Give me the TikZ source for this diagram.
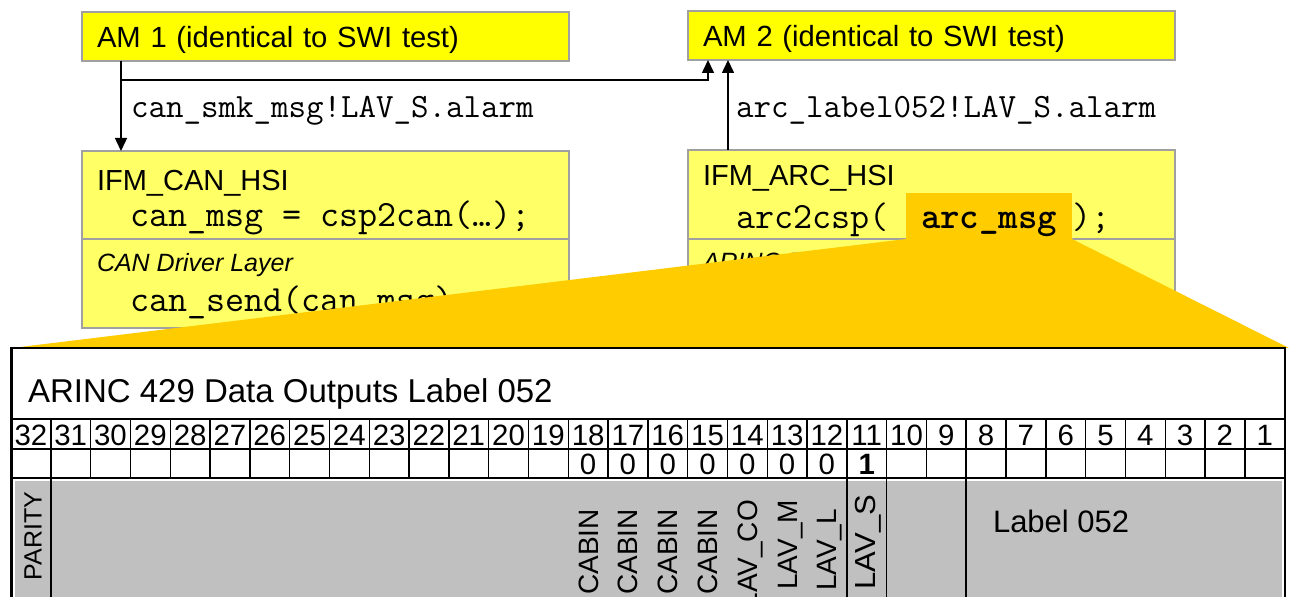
\documentclass[tikz,border=0pt]{standalone}
\usepackage{fontspec}
\setmainfont{Liberation Sans}
\usepackage{graphicx}
\usetikzlibrary{arrows.meta,positioning}
\definecolor{amyellow}{HTML}{FFFF00}
\definecolor{ifmyellow}{HTML}{FFFF66}
\definecolor{boxgrey}{HTML}{A0A0A0}
\definecolor{zoomorange}{HTML}{FFCC00}
\definecolor{fieldgrey}{HTML}{C0C0C0}
\newcommand{\longtext}[2][1.0]{\scalebox{#1}[1]{#2}}

\begin{document}
\begin{tikzpicture}[
          x=0.5pt, y=-0.5pt,
          every node/.style={inner sep=0pt, outer sep=0pt},
          ambox/.style={draw=boxgrey, fill=amyellow, line width=0.75pt, anchor=north west, minimum width=243.5pt, minimum height=24.5pt,
            text width=228.5pt, inner xsep=7.5pt, align=left, text height=12pt, text depth=0.5pt, font=\fontsize{14.6pt}{17pt}\selectfont},
          ifmbox/.style={draw=boxgrey, fill=ifmyellow, line width=0.75pt, anchor=north west, minimum width=243.5pt, minimum height=88.5pt},
          head/.style={anchor=base west, font=\fontsize{14.5pt}{17pt}\selectfont},
          layer/.style={anchor=base west, font=\fontsize{12.5pt}{15pt}\selectfont\itshape},
          code/.style={anchor=base west, font=\fontsize{18.5pt}{21pt}\selectfont\ttfamily},
          msg/.style={anchor=base west, font=\fontsize{17pt}{20pt}\selectfont\ttfamily},
          hilite/.style={fill=zoomorange, anchor=north west, minimum width=83pt, minimum height=23.5pt, text height=13pt, text depth=0.5pt,
            font=\fontsize{18.5pt}{21pt}\selectfont\ttfamily\bfseries},
          bitno/.style={anchor=base, font=\fontsize{14.7pt}{17pt}\selectfont},
          field/.style={rotate=90, anchor=base east, font=\fontsize{14pt}{16pt}\selectfont},
          grid/.style={line width=0.7pt},
          frame/.style={line width=1.25pt},
          conn/.style={line width=0.75pt},
          -, >={Triangle[width=6pt,length=6.5pt]}
        ]
        \useasboundingbox (0,0) rectangle (1289,597);
        \clip (0,0) rectangle (1289,597);
        \fill[white] (0,0) rectangle (1289,597);

        \node[ambox] (am1) at (82,12) {AM 1 (identical to SWI test)};
        \node[ambox] (am2) at (688,11) {AM 2 (identical to SWI test)};
        \node[ifmbox] (canhsi) at (82,151) {};
        \node[ifmbox] (archsi) at (688,150) {};
        \draw[boxgrey, conn] (canhsi.west |- 0,239) -- (canhsi.east |- 0,239);
        \draw[boxgrey, conn] (archsi.west |- 0,239) -- (archsi.east |- 0,239);

        \node[head] (canname) at (97,191) {IFM\_CAN\_HSI};
        \node[code] (cancall) at (130,227) {can\_msg = csp2can(…);};
        \node[layer] (canlayer) at (97,272) {CAN Driver Layer};
        \node[code] (cansend) at (130,312) {can\_send(can\_msg);};
        \node[head] (arcname) at (703,186) {IFM\_ARC\_HSI};
        \node[code] (arccall) at (736,229) {arc2csp(};
        \node[layer] (arclayer) at (703,271) {ARINC Driver Layer};
        \node[hilite] (arcmsg) at (906,193) {arc\_msg};
        \node[code] (arcclose) at (arcmsg.base east) {);};

        \coordinate (tap) at (121,80);
        \draw[conn, ->] (am1.south -| tap) -- (canhsi.north -| tap);
        \draw[conn, ->] (tap) -| ([xshift=10pt]am2.south west);
        \draw[conn, ->] ([xshift=20pt]archsi.north west) -- ([xshift=20pt]am2.south west);
        \node[msg] (canmsg) at (131,118) {can\_smk\_msg!LAV\_S.alarm};
        \node[msg] (arcmsglbl) at (736,118) {arc\_label052!LAV\_S.alarm};

        \fill[zoomorange] ([yshift=0.5pt]arcmsg.south west) -- (12,348) -- (1289,348) -- ([yshift=0.5pt]arcmsg.south east) -- cycle;

        \fill[white] (11.5,348) rectangle (1285,600);
        \node[anchor=base west, font=\fontsize{16.5pt}{19pt}\selectfont] (arinc) at (28,403) {ARINC 429 Data Outputs Label 052};
        \foreach \b [count=\k from 0] in {32,31,...,1}
          \node[bitno] (bit\b) at (30.9+39.8*\k,446) {\b};
        \foreach \b in {18,...,12}
          \node[bitno] (val\b) at (30.9+39.8*32-39.8*\b,475) {0};
        \node[bitno] (val11) at (30.9+39.8*21,475) {\textbf{1}};
        \draw[grid] (11.5,419) -- (1285,419);
        \draw[grid] (11.5,449) -- (1285,449);
        \draw[grid] (11.5,478) -- (1285,478);
        \foreach \k in {1,...,31}
          \draw[grid] (11+39.8*\k,419) -- (11+39.8*\k,478);
        \fill[fieldgrey] (15,481) rectangle (1282,600);
        \draw[frame] (51,419) -- (51,600);
        \draw[frame] (966.2,419) -- (966.2,600);
        \draw[grid] (846.8,478) -- (846.8,600);
        \draw[grid] (886.6,478) -- (886.6,600);
        \draw[frame] (11.5,600) -- (11.5,348) -- (1285,348) -- (1285,600);

        \node[field, font=\fontsize{12.5pt}{15pt}\selectfont] (parity) at (41.5,492) {PARITY};
        \foreach \b in {18,...,15}
          \node[field] (fld\b) at (50.8+39.8*32-39.8*\b-10,509) {CABIN};
        \node[field] (fld14) at (50.8+39.8*18-10,500) {LAV\_CO};
        \node[field] (fld13) at (50.8+39.8*19-10,500) {LAV\_M};
        \node[field] (fld12) at (50.8+39.8*20-10,509) {LAV\_L};
        \node[field, font=\fontsize{14.5pt}{17pt}\selectfont] (fld11) at (50.8+39.8*21-11,495) {\longtext[1.07]{LAV\_S}};
        \node[anchor=base west, font=\fontsize{15.5pt}{18pt}\selectfont] (label052) at (993,533) {Label 052};
        \end{tikzpicture}
\end{document}
